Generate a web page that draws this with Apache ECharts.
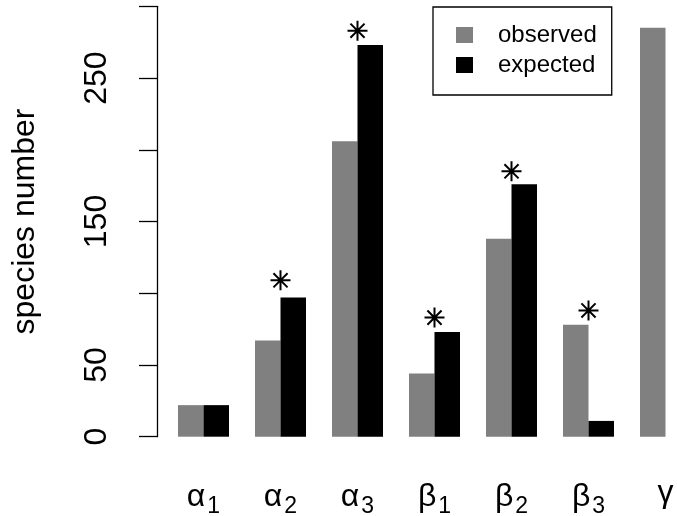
<!DOCTYPE html>
<html>
<head>
<meta charset="utf-8">
<script src="https://cdn.jsdelivr.net/npm/echarts@6/dist/echarts.min.js"></script>
<style>
html,body{margin:0;padding:0;background:#fff;}
#chart{width:677px;height:516px;}
</style>
</head>
<body>
<div id="chart"></div>
<script>
// ---- data ----
var categories = ['α1', 'α2', 'α3', 'β1', 'β2', 'β3', 'γ'];
var observed = [22, 67, 206, 44, 138, 78, 285];
var expected = [22, 97, 273, 73, 176, 11, null];
var starValues = [null, 109, 283, 83, 185, 88, null];
var yTickLabels = ['0', '50', '150', '250'];
var seriesNames = ['observed', 'expected'];

var FONT = '"Liberation Sans", Arial, sans-serif';
var chart = echarts.init(document.getElementById('chart'), null, {renderer: 'canvas'});

var starPath = 'path://M10 0L10 20M0 10L20 10M2.93 2.93L17.07 17.07M17.07 2.93L2.93 17.07';

var option = {
  animation: false,
  backgroundColor: '#ffffff',
  textStyle: {fontFamily: FONT},
  grid: {left: 165, width: 539, top: 6.3, height: 430.4, containLabel: false, outerBoundsMode: 'none'},
  legend: {
    orient: 'vertical',
    left: 433,
    top: 7,
    data: seriesNames,
    padding: [16, 15, 18, 23],
    itemWidth: 17,
    itemHeight: 16,
    itemGap: 6,
    borderColor: '#000',
    borderWidth: 1.3,
    icon: 'rect',
    textStyle: {fontSize: 24, fontFamily: FONT, color: '#000', padding: [0, 0, 0, 20]}
  },
  xAxis: {
    type: 'category',
    data: categories,
    axisLine: {show: false},
    axisTick: {show: false},
    axisLabel: {
      margin: 40,
      formatter: function (v) {
        return '{m|' + v.charAt(0) + '}' + (v.length > 1 ? '{s|' + v.slice(1) + '}' : '');
      },
      rich: {
        m: {fontSize: 32, fontFamily: FONT, color: '#000'},
        s: {fontSize: 23, fontFamily: FONT, color: '#000', padding: [18, 0, 0, 2]}
      }
    }
  },
  yAxis: {
    type: 'value',
    min: 0,
    max: 300,
    interval: 50,
    offset: 8,
    name: 'species number',
    nameLocation: 'middle',
    nameGap: 116,
    nameMoveOverlap: false,
    nameTextStyle: {fontSize: 32, fontFamily: FONT, color: '#000'},
    axisLine: {show: true, lineStyle: {color: '#000', width: 1.3}},
    axisTick: {show: true, length: 18, lineStyle: {color: '#000', width: 1.3}},
    splitLine: {show: false},
    axisLabel: {
      rotate: 90,
      margin: 44,
      fontSize: 32,
      fontFamily: FONT,
      color: '#000',
      formatter: function (v) {
        var s = String(v);
        return yTickLabels.indexOf(s) >= 0 ? s : '';
      }
    }
  },
  series: [
    {
      name: seriesNames[0],
      type: 'bar',
      data: observed,
      barWidth: 25.5,
      barGap: '0%',
      itemStyle: {color: '#808080'}
    },
    {
      name: seriesNames[1],
      type: 'bar',
      data: expected,
      barWidth: 25.5,
      barGap: '0%',
      itemStyle: {color: '#000000'}
    },
    {
      name: 'sig',
      type: 'scatter',
      data: starValues,
      symbol: starPath,
      symbolSize: 20,
      itemStyle: {color: 'none', borderColor: '#000', borderWidth: 2, opacity: 1},
      z: 5
    }
  ]
};
chart.setOption(option);
</script>
</body>
</html>
